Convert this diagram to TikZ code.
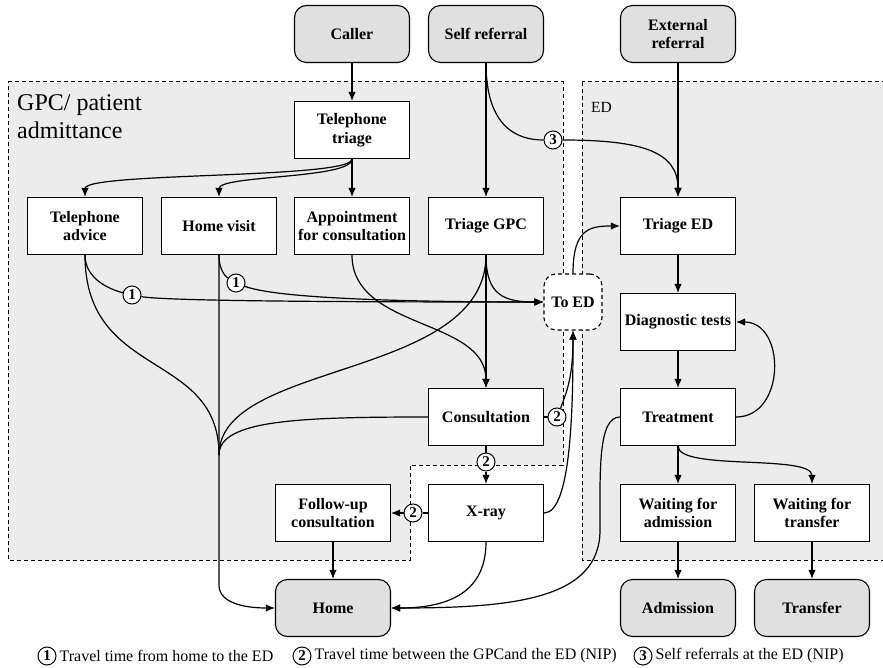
\documentclass[tikz,border=0pt]{standalone}
\usepackage{fontspec}
\setmainfont{Liberation Serif}
\usepackage{xcolor}
\usetikzlibrary{positioning,arrows.meta}
\definecolor{termgray}{HTML}{E0E0E0}
\definecolor{regiongray}{HTML}{ECECEC}

\begin{document}
\begin{tikzpicture}[x=1pt,y=-1pt,>={Latex[length=9pt,width=7.5pt]},
    box/.style={draw,line width=1.1pt,fill=white,minimum width=115pt,minimum height=57pt,
      align=center,inner sep=2pt,font=\fontsize{16}{18.5}\selectfont\bfseries},
    terminal/.style={box,rounded corners=12pt,fill=termgray},
    marker/.style={draw,circle,line width=1pt,fill=white,inner sep=0pt,minimum size=18pt,
      font=\fontsize{15}{15}\selectfont\bfseries},
    region/.style={draw,dash pattern=on 4pt off 3pt,line width=1pt,fill=regiongray},
    flow/.style={line width=1.2pt},
    keytext/.style={inner sep=1pt,font=\fontsize{16}{18}\selectfont}]
        \useasboundingbox (0,0) rectangle (883,668);
        \draw[region] (8,82) -- (563,82) -- (563,465) -- (410,465) -- (410,560) -- (8,560) -- cycle;
        \draw[region] (582,82) rectangle (900,560);
        \node[anchor=north west,align=left,inner sep=0pt,font=\fontsize{24}{28}\selectfont] (gpclabel) at (17,94) {GPC/ patient\\admittance};
        \node[anchor=base west,inner sep=0pt,font=\fontsize{15.5}{18}\selectfont] (edlabel) at (591,113) {ED};

        \node[terminal] (caller) at (352,34) {Caller};
        \node[terminal] (selfref) at (486,34) {Self referral};
        \node[terminal] (extref) at (678,34) {External\\referral};
        \node[box] (teltriage) at (352,130) {Telephone\\triage};
        \node[box] (teladvice) at (85,226) {Telephone\\advice};
        \node[box] (homevisit) at (219,226) {Home visit};
        \node[box] (appoint) at (352,226) {Appointment\\for consultation};
        \node[box] (triagegpc) at (486,226) {Triage GPC};
        \node[box] (triageed) at (678,226) {Triage ED};
        \node[box,rounded corners=12pt,dash pattern=on 4pt off 3pt,minimum width=58pt,minimum height=56pt] (toed) at (573,302) {To ED};
        \node[box] (diag) at (678,322) {Diagnostic tests};
        \node[box] (consult) at (486,417) {Consultation};
        \node[box] (treat) at (678,417) {Treatment};
        \node[box] (xray) at (486,513) {X-ray};
        \node[box] (followup) at (333,513) {Follow-up\\consultation};
        \node[box] (waitadm) at (678,513) {Waiting for\\admission};
        \node[box] (waittrans) at (812,513) {Waiting for\\transfer};
        \node[terminal] (home) at (333,608) {Home};
        \node[terminal] (admission) at (678,608) {Admission};
        \node[terminal] (transfer) at (812,608) {Transfer};

        \node[marker] (m3) at (553,140) {3};
        \node[marker] (m1a) at (132,295) {1};
        \node[marker] (m1b) at (236,283) {1};
        \node[marker] (m2a) at (557,417) {2};
        \node[marker] (m2b) at (486,462) {2};
        \node[marker] (m2c) at (413,513) {2};
        \coordinate (merge) at (219,455);
        \coordinate (bend) at (219,585);
        \coordinate (detour) at (600,530);

        \draw[flow,->] (caller) -- (teltriage);
        \draw[flow,->] (teltriage) -- (appoint);
        \draw[flow,->] (teltriage.south) .. controls +(0,20) and +(0,-25) .. (teladvice.north);
        \draw[flow,->] (teltriage.south) .. controls +(0,20) and +(0,-22) .. (homevisit.north);
        \draw[flow,->] (selfref) -- (triagegpc);
        \draw[flow] (selfref.south) .. controls +(0,65) and +(-35,0) .. (m3);
        \draw[flow,->] (m3) .. controls +(90,0) and +(0,-45) .. (triageed.north);
        \draw[flow,->] (extref) -- (triageed);

        \draw[flow] (teladvice.south) .. controls +(0,25) and +(-20,-5) .. (m1a);
        \draw[flow,->] (m1a) .. controls +(40,7) and +(-120,0) .. (toed.west);
        \draw[flow] (homevisit.south) .. controls +(0,18) and +(-8,-5) .. (m1b);
        \draw[flow,->] (m1b) .. controls +(40,15) and +(-150,0) .. (toed.west);
        \draw[flow,->] (triagegpc.south) .. controls +(0,40) and +(-40,0) .. (toed.west);
        \draw[flow,->] (triagegpc) -- (consult);
        \draw[flow] (triagegpc.south) .. controls +(0,125) and +(0,-95) .. (merge);
        \draw[flow] (teladvice.south) .. controls +(0,125) and +(0,-105) .. (merge);
        \draw[flow] (consult.west) .. controls +(-130,0) and +(0,-35) .. (merge);
        \draw[flow,->] (homevisit.south) -- (bend) .. controls +(0,20) and +(-25,0) .. (home.west);
        \draw[flow,->] (appoint.south) .. controls +(0,75) and +(0,-70) .. (consult.north);

        \draw[flow] (consult) -- (m2a);
        \draw[flow,->] (m2a) .. controls +(10,-25) and +(0,45) .. (toed.south);
        \draw[flow,->] (xray.east) .. controls +(28,0) and +(0,70) .. (toed.south);
        \draw[flow] (consult) -- (m2b);
        \draw[flow,->] (m2b) -- (xray);
        \draw[flow] (xray) -- (m2c);
        \draw[flow,->] (m2c) -- (followup);
        \draw[flow,->] (followup) -- (home);
        \draw[flow,->] (xray.south) .. controls +(0,55) and +(50,0) .. (home.east);
        \draw[flow,->] (treat.west) .. controls +(-22,0) and +(0,-60) .. (detour) .. controls +(0,70) and +(120,0) .. (home.east);

        \draw[flow,->] (toed.north) .. controls +(0,-45) and +(-30,0) .. (triageed.west);
        \draw[flow,->] (triageed) -- (diag);
        \draw[flow,->] (diag) -- (treat);
        \draw[flow,->] (treat.east) .. controls +(50,0) and +(50,0) .. (diag.east);
        \draw[flow,->] (treat) -- (waitadm);
        \draw[flow,->] (treat.south) .. controls +(0,25) and +(0,-30) .. (waittrans.north);
        \draw[flow,->] (waitadm) -- (admission);
        \draw[flow,->] (waittrans) -- (transfer);

        \node[marker] (key1) at (47,656) {1};
        \node[keytext,right=2pt of key1] (key1txt) {Travel time from home to the ED};
        \node[marker] (key2) at (302,656) {2};
        \node[keytext,right=2pt of key2] (key2txt) {Travel time between the GPCand the ED (NIP)};
        \node[marker] (key3) at (643,656) {3};
        \node[keytext,right=2pt of key3] (key3txt) {Self referrals at the ED (NIP)};
\end{tikzpicture}
\end{document}
